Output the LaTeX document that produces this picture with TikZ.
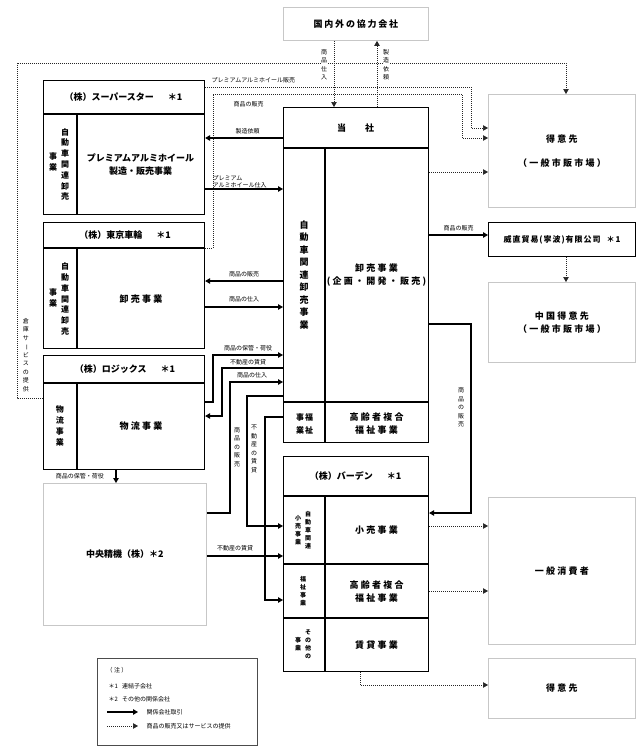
\documentclass[tikz,border=0pt]{standalone}
\usepackage{fontspec}
\usepackage{graphicx}
\setmainfont{Noto Sans CJK JP}
\usetikzlibrary{arrows.meta}
\newcommand{\vbar}{\rotatebox[origin=c]{-90}{ー}}
\begin{document}
\begin{tikzpicture}[x=1pt,y=-1pt,
  box/.style={draw,line width=1.1pt,inner sep=0pt,anchor=north west},
  lbox/.style={draw=black!22,line width=0.9pt,inner sep=0pt,anchor=north west,
     font=\fontsize{9}{13}\selectfont\bfseries\addfontfeature{LetterSpace=20},align=center},
  inl/.style={line width=1.1pt},
  bt/.style={inner sep=0pt,align=center,font=\fontsize{9}{13}\selectfont\bfseries},
  bts/.style={inner sep=0pt,align=center,font=\fontsize{9}{13}\selectfont\bfseries\addfontfeature{LetterSpace=25}},
  vc/.style={inner sep=0pt,align=center,font=\fontsize{8}{10.8}\selectfont\bfseries},
  vs/.style={inner sep=0pt,align=center,font=\fontsize{6}{8}\selectfont\bfseries},
  lb/.style={inner sep=0.5pt,font=\fontsize{6}{8}\selectfont},
  vl/.style={inner sep=0.5pt,align=center,font=\fontsize{6}{8.5}\selectfont},
  sol/.style={line width=1.1pt,-{Triangle[length=5pt,width=5.5pt]}},
  dot/.style={line width=0.7pt,black!85,dash pattern=on 0.7pt off 1.3pt,-{Triangle[length=5pt,width=5.5pt]}},
]
\useasboundingbox (0,0) rectangle (644,753);

% ---------- boxes ----------
\node[lbox,minimum width=145pt,minimum height=33pt] (kyo) at (283,7) {国内外の協力会社};

\node[box,minimum width=161pt,minimum height=134pt] (ss) at (43,80) {};
\draw[inl] (ss.west |- 0,114) -- (ss.east |- 0,114);
\draw[inl] (77,114) -- (ss.south -| 77,0);
\node[bt] (sst) at (123.5,97) {（株）スーパースター\hspace{14pt}＊1};
\node[bt] (ssb) at (140.5,164.5) {プレミアムアルミホイール\\製造・販売事業};
\node[vc] (ssv1) at (65,164.5) {自\\動\\車\\関\\連\\卸\\売};
\node[vc] (ssv2) at (53,162) {事\\業};

\node[box,minimum width=161pt,minimum height=126pt] (tk) at (43,222) {};
\draw[inl] (tk.west |- 0,248) -- (tk.east |- 0,248);
\draw[inl] (77,248) -- (tk.south -| 77,0);
\node[bt] (tkt) at (125,235) {（株）東京車輪\hspace{14pt}＊1};
\node[bts] (tkb) at (141,299) {卸売事業};
\node[vc] (tkv1) at (65,299) {自\\動\\車\\関\\連\\卸\\売};
\node[vc] (tkv2) at (53,298) {事\\業};

\node[box,minimum width=161pt,minimum height=114pt] (lg) at (43,355) {};
\draw[inl] (lg.west |- 0,383) -- (lg.east |- 0,383);
\draw[inl] (77,383) -- (lg.south -| 77,0);
\node[bt] (lgt) at (125,369) {（株）ロジックス\hspace{14pt}＊1};
\node[bts] (lgb) at (141,426) {物流事業};
\node[vc] (lgv) at (60,426) {物\\流\\事\\業};

\node[lbox,minimum width=163pt,minimum height=142pt,font=\fontsize{9}{13}\selectfont\bfseries] (cs) at (43,483) {中央精機（株）＊2};

\node[box,minimum width=145pt,minimum height=335pt] (hq) at (283,107) {};
\draw[inl] (hq.west |- 0,148) -- (hq.east |- 0,148);
\draw[inl] (325,148) -- (hq.south -| 325,0);
\draw[inl] (hq.west |- 0,402) -- (hq.east |- 0,402);
\node[bt] (hqt) at (355.5,128) {当\hspace{19pt}社};
\node[vc,font=\fontsize{9}{12.5}\selectfont\bfseries] (hqv) at (304,275) {自\\動\\車\\関\\連\\卸\\売\\事\\業};
\node[bts] (hqb) at (376.5,275) {卸売事業\\(企画・開発・販売)};
\node[vc,font=\fontsize{8}{13}\selectfont\bfseries] (hqw1) at (309,423.5) {福\\祉};
\node[vc,font=\fontsize{8}{13}\selectfont\bfseries] (hqw2) at (300,423.5) {事\\業};
\node[bts] (hqf) at (376.5,423.5) {高齢者複合\\福祉事業};

\node[box,minimum width=145pt,minimum height=215pt] (bd) at (283,456) {};
\draw[inl] (bd.west |- 0,496) -- (bd.east |- 0,496);
\draw[inl] (bd.west |- 0,564) -- (bd.east |- 0,564);
\draw[inl] (bd.west |- 0,618) -- (bd.east |- 0,618);
\draw[inl] (325,496) -- (bd.south -| 325,0);
\node[bt] (bdt) at (355.5,476) {（株）バーデン\hspace{14pt}＊1};
\node[bts] (bd1) at (376.5,530) {小売事業};
\node[bts] (bd2) at (376.5,592) {高齢者複合\\福祉事業};
\node[bts] (bd3) at (376.5,645) {賃貸事業};
\node[vs] (bdv1a) at (308,530) {自\\動\\車\\関\\連};
\node[vs] (bdv1b) at (298,530) {小\\売\\事\\業};
\node[vs] (bdv2) at (303,591) {福\\祉\\事\\業};
\node[vs] (bdv3a) at (308,644) {そ\\の\\他\\の};
\node[vs] (bdv3b) at (298,644) {事\\業};

\node[lbox,minimum width=147pt,minimum height=113pt,font=\fontsize{9}{24}\selectfont\bfseries\addfontfeature{LetterSpace=25}] (c1) at (488,94) {得意先\\（一般市販市場）};
\node[box,minimum width=147pt,minimum height=34pt,font=\fontsize{8}{10}\selectfont\bfseries\addfontfeature{LetterSpace=12}] (wz) at (488,222) {威直貿易(寧波)有限公司\hspace{6pt}＊1};
\node[lbox,minimum width=147pt,minimum height=80pt,font=\fontsize{9}{12.5}\selectfont\bfseries\addfontfeature{LetterSpace=25}] (cn) at (488,282) {中国得意先\\（一般市販市場）};
\node[lbox,minimum width=147pt,minimum height=147pt,font=\fontsize{9}{13}\selectfont\bfseries\addfontfeature{LetterSpace=25}] (gc) at (488,497) {一般消費者};
\node[lbox,minimum width=147pt,minimum height=60pt,font=\fontsize{9}{13}\selectfont\bfseries\addfontfeature{LetterSpace=25}] (c2) at (488,658) {得意先};

% ---------- top connectors ----------
\draw[dot] (kyo.south -| 334,0) -- (hq.north -| 334,0);
\draw[dot] (hq.north -| 377,0) -- (kyo.south -| 377,0);
\draw[dot] (lg.west |- 0,398) -- (17,398) -- (17,63) -- (566,63) -- (c1.north -| 566,0);
\node[vl,fill=white] (l1) at (324,64.5) {商\\品\\仕\\入};
\node[vl,fill=white] (l2) at (386,64.5) {製\\造\\依\\頼};
\node[vl] (l3) at (26,355) {倉\\庫\\サ\\\vbar\\ビ\\ス\\の\\提\\供};

\draw[dot] (ss.east |- 0,87) -- (471,87) -- (471,128) -- (c1.west |- 0,128);
\node[lb,anchor=west] (l4) at (211,80.5) {プレミアムアルミホイール販売};
\draw[dot] (tk.east |- 0,248) -- (213,248) -- (213,94) -- (462,94) -- (462,138) -- (c1.west |- 0,138);
\node[lb] (l5) at (248.5,104) {商品の販売};

\draw[sol] (hq.west |- 0,138) -- (ss.east |- 0,138);
\node[lb] (l6) at (247.5,131) {製造依頼};
\draw[sol] (ss.east |- 0,189) -- (hq.west |- 0,189);
\node[lb,anchor=west,align=left,font=\fontsize{6}{7.5}\selectfont] (l7) at (212,181.5) {プレミアム\\アルミホイール仕入};

\draw[sol] (hq.west |- 0,281) -- (tk.east |- 0,281);
\node[lb] (l8) at (244,274) {商品の販売};
\draw[sol] (tk.east |- 0,307) -- (hq.west |- 0,307);
\node[lb] (l9) at (244,299.5) {商品の仕入};

\draw[sol] (lg.east |- 0,402) -- (213,402) -- (213,355) -- (hq.west |- 0,355);
\node[lb] (l10) at (248,348) {商品の保管・荷役};
\draw[sol] (hq.west |- 0,368) -- (222,368) -- (222,416) -- (lg.east |- 0,416);
\node[lb] (l11) at (248,362) {不動産の賃貸};
\draw[sol] (cs.east |- 0,513) -- (230,513) -- (230,382) -- (hq.west |- 0,382);
\node[lb] (l12) at (252,375.5) {商品の仕入};
\node[vl] (l13) at (237,447) {商\\品\\の\\販\\売};
\draw[sol] (hq.west |- 0,396) -- (247,396) -- (247,526) -- (bd.west |- 0,526);
\node[vl] (l14) at (254,449) {不\\動\\産\\の\\賃\\貸};
\draw[sol] (hq.west |- 0,417) -- (265,417) -- (265,600) -- (bd.west |- 0,600);
\draw[sol] (cs.east |- 0,556) -- (bd.west |- 0,556);
\node[lb] (l15) at (235,548) {不動産の賃貸};
\draw[sol] (lg.south -| 116,0) -- (cs.north -| 116,0);
\node[lb] (l16) at (80,476.5) {商品の保管・荷役};

% ---------- right connectors ----------
\draw[dot] (hq.east |- 0,172) -- (c1.west |- 0,172);
\draw[sol] (hq.east |- 0,235) -- (wz.west |- 0,235);
\node[lb] (l17) at (458.5,228.5) {商品の販売};
\draw[dot] (wz.south -| 566,0) -- (cn.north -| 566,0);
\draw[sol] (hq.east |- 0,324) -- (471,324) -- (471,513) -- (bd.east |- 0,513);
\node[vl] (l18) at (461,407.5) {商\\品\\の\\販\\売};
\draw[dot] (bd.east |- 0,526) -- (gc.west |- 0,526);
\draw[dot] (bd.east |- 0,591) -- (gc.west |- 0,591);
\draw[dot] (bd.south -| 360,0) -- (360,685) -- (c2.west |- 0,685);

% ---------- legend ----------
\node[draw=black!70,line width=0.8pt,inner sep=0pt,anchor=north west,minimum width=160pt,minimum height=87pt] (lgd) at (97,658) {};
\node[lb,anchor=west] (g0) at (106,670) {（ 注 ）};
\node[lb,anchor=west] (g1) at (108,686) {＊1\hspace{4pt}連結子会社};
\node[lb,anchor=west] (g2) at (108,699) {＊2\hspace{4pt}その他の関係会社};
\coordinate (a1) at (107,712);
\coordinate (b1) at (138,712);
\coordinate (a2) at (107,726);
\coordinate (b2) at (138,726);
\draw[sol] (a1) -- (b1);
\draw[dot] (a2) -- (b2);
\node[lb,anchor=west] (g3) at (146,712) {関係会社取引};
\node[lb,anchor=west] (g4) at (146,726) {商品の販売又はサービスの提供};
\end{tikzpicture}
\end{document}
